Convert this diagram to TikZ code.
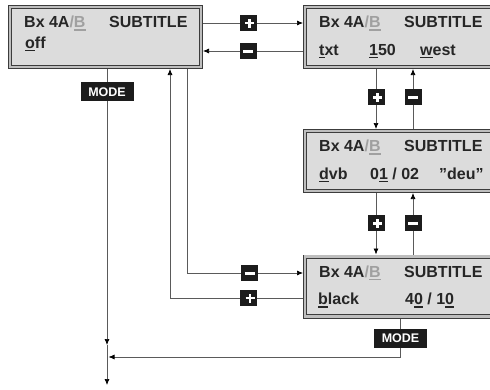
\documentclass[tikz,border=0pt]{standalone}
\usepackage{fontspec}
\setmainfont{Liberation Sans}
\usetikzlibrary{arrows.meta,positioning}

\definecolor{dispfill}{HTML}{DCDCDC}
\definecolor{dispgap}{HTML}{BEBEBE}
\definecolor{displine}{HTML}{3C3C3C}
\definecolor{leadgray}{HTML}{5A5A5A}
\definecolor{dimtext}{HTML}{A0A0A0}
\definecolor{keyblack}{HTML}{1C1C1C}

% underline with a heavier bar than \underline
\newcommand{\uln}[1]{\setbox0\hbox{#1}\rlap{\rule[-3.2pt]{\wd0}{1.6pt}}\box0\relax}
\newcommand{\unitname}{Bx 4A{\color{dimtext}/\uln{B}}}
\newcommand{\plusglyph}{\rlap{\rule[-1.4pt]{9pt}{2.8pt}}\hspace{3.1pt}\rule[-4.5pt]{2.8pt}{9pt}\hspace{3.1pt}}
\newcommand{\minusglyph}{\rule[-1.5pt]{10pt}{3pt}}

\tikzset{
	display/.style={draw=displine, line width=0.8pt, double=dispgap, double distance=2.6pt,
		fill=dispfill, minimum width=190.8pt, minimum height=59.8pt, inner sep=0pt, outer sep=2.1pt},
	lbl/.style={anchor=base west, inner sep=0pt, text=black!85,
		font=\bfseries\fontsize{16}{19}\selectfont},
	lead/.style={draw=leadgray, line width=0.7pt},
	tip/.style={lead, -{Latex[length=6pt,width=5pt,color=black]}},
	keybox/.style={fill=keyblack, text=white, inner sep=0pt, minimum width=17pt, minimum height=16pt},
	modekey/.style={fill=keyblack, text=white, inner sep=0pt, minimum width=53pt, minimum height=19pt,
		font=\bfseries\fontsize{12.5}{14}\selectfont},
}

\begin{document}
\begin{tikzpicture}[x=1pt, y=-1pt]
	\useasboundingbox (0,0) rectangle (490,389);
	\clip (0,0) rectangle (490,389);

	% displays
	\node[display] (off) at (105.5,37) {};
	\node[display] (txt) at (400.5,37) {};
	\node[display] (dvb) at (400.5,161) {};
	\node[display] (black) at (400.5,286.5) {};

	% first line, the same in every display
	\foreach \d in {off,txt,dvb,black}{
		\node[lbl] (\d-unit) at ([shift={(16,22.7)}]\d.north west) {\unitname};
		\node[lbl] (\d-sub) at ([shift={(101,22.7)}]\d.north west) {SUBTITLE};
	}

	% second line
	\node[lbl] (off-mode) at ([shift={(17,43)}]off.north west) {\uln{o}ff};
	\node[lbl] (txt-src) at ([shift={(16,50)}]txt.north west) {\uln{t}xt};
	\node[lbl] (txt-page) at ([shift={(66,50)}]txt.north west) {\uln{1}50};
	\node[lbl] (txt-lang) at ([shift={(117,50)}]txt.north west) {\uln{w}est};
	\node[lbl] (dvb-src) at ([shift={(16,50)}]dvb.north west) {\uln{d}vb};
	\node[lbl] (dvb-track) at ([shift={(67,50)}]dvb.north west) {0\uln{1} / 02};
	\node[lbl] (dvb-lang) at ([shift={(136,50)}]dvb.north west) {"deu"};
	\node[lbl] (black-bg) at ([shift={(15,50)}]black.north west) {\uln{b}lack};
	\node[lbl] (black-pos) at ([shift={(102,50)}]black.north west) {4\uln{0} / 1\uln{0}};

	% +/- keys between the displays
	\draw[tip] ([yshift=14pt]off.east) -- node[keybox, pos=.45] (k-up) {\plusglyph} ([yshift=14pt]txt.west);
	\draw[tip] ([yshift=-14pt]txt.west) -- node[keybox, pos=.55] (k-back) {\minusglyph} ([yshift=-14pt]off.east);
	\draw[tip] ([xshift=-24.5pt]txt.south) -- node[keybox, pos=.47] (k-dn1) {\plusglyph} ([xshift=-24.5pt]dvb.north);
	\draw[tip] ([xshift=12.5pt]dvb.north) -- node[keybox, pos=.53] (k-up1) {\minusglyph} ([xshift=12.5pt]txt.south);
	\draw[tip] ([xshift=-24.5pt]dvb.south) -- node[keybox, pos=.49] (k-dn2) {\plusglyph} ([xshift=-24.5pt]black.north);
	\draw[tip] ([xshift=12.5pt]black.north) -- node[keybox, pos=.51] (k-up2) {\minusglyph} ([xshift=12.5pt]dvb.south);

	% loops from the last display back to the first
	\coordinate (back) at ([xshift=64.5pt]off.south);
	\coordinate (fwd) at ([xshift=81.5pt]off.south);
	\draw[tip] ([yshift=-11.5pt]black.west) -- node[keybox, pos=.41] (k-wrap) {\plusglyph}
		([yshift=-11.5pt]black.west -| back) -- (back);
	\draw[tip] (fwd) |- node[keybox, pos=.77] (k-jump) {\minusglyph} ([yshift=13.5pt]black.west);

	% MODE exits
	\coordinate (modecol) at ([xshift=1.5pt]off.south);
	\coordinate (merge) at (107,345);
	\coordinate (exit) at (107,385);
	\coordinate (ret) at (108.5,357);
	\draw[tip] (modecol) -- node[modekey, pos=.083] (mode-off) {MODE} (merge);
	\draw[tip] (merge) -- (exit);
	\draw[tip] (black.south) |- node[modekey, pos=.26] (mode-black) {MODE} (ret);
\end{tikzpicture}
\end{document}
